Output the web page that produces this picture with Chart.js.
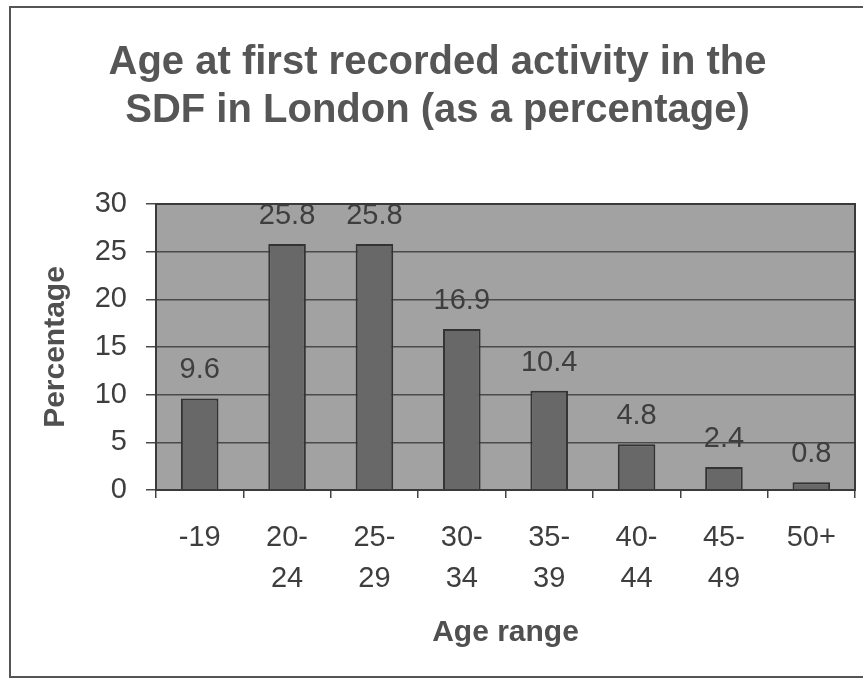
<!DOCTYPE html>
<html>
<head>
<meta charset="utf-8">
<script src="https://cdn.jsdelivr.net/npm/chart.js@4"></script>
<style>
html, body { margin: 0; padding: 0; background: #fff; }
#wrap { position: relative; width: 863px; height: 680px; overflow: hidden; }
#frame { position: absolute; left: 9px; top: 6px; width: 900px; height: 668px; border: 2px solid #555; border-right: none; }
#graphCanvas { position: absolute; left: 0; top: 0; }
</style>
</head>
<body>
<div id="wrap">
  <div id="frame"></div>
  <canvas id="graphCanvas" width="863" height="680"></canvas>
</div>
<script>
// chart data
var ageRanges = ['-19', ['20-', '24'], ['25-', '29'], ['30-', '34'], ['35-', '39'], ['40-', '44'], ['45-', '49'], '50+'];
var percentages = [9.6, 25.8, 25.8, 16.9, 10.4, 4.8, 2.4, 0.8];
var yTicks = [0, 5, 10, 15, 20, 25, 30];
var titleLines = ['Age at first recorded activity in the', 'SDF in London (as a percentage)'];

var fontFamily = '"Liberation Sans", Arial, sans-serif';

// grey plot area behind the bars
var plotBackground = {
    id: 'plotBackground',
    beforeDraw: function (chart) {
        var a = chart.chartArea;
        var ctx = chart.ctx;
        ctx.save();
        ctx.fillStyle = '#a2a2a2';
        ctx.fillRect(a.left, a.top, a.right - a.left, a.bottom - a.top);
        ctx.restore();
    },
    afterDraw: function (chart) {
        var a = chart.chartArea;
        var ctx = chart.ctx;
        ctx.save();
        ctx.strokeStyle = '#3a3a3a';
        ctx.lineWidth = 2;
        ctx.strokeRect(a.left, a.top, a.right - a.left, a.bottom - a.top);
        ctx.restore();
    }
};

// numbers written above each bar
var valueLabels = {
    id: 'valueLabels',
    afterDatasetsDraw: function (chart) {
        var ctx = chart.ctx;
        var meta = chart.getDatasetMeta(0);
        ctx.save();
        ctx.font = '29px ' + fontFamily;
        ctx.fillStyle = '#3e3e3e';
        ctx.textAlign = 'center';
        ctx.textBaseline = 'middle';
        meta.data.forEach(function (bar, i) {
            ctx.fillText(String(percentages[i]), bar.x, bar.y - 28);
        });
        ctx.restore();
    }
};

var chartdata = {
    labels: ageRanges,
    datasets: [
        {
            label: 'Percentage',
            data: percentages,
            backgroundColor: '#686868',
            borderColor: '#333',
            borderWidth: 2,
            barPercentage: 0.43,
            categoryPercentage: 1.0
        }
    ]
};

var graphTarget = document.getElementById('graphCanvas');

var barGraph = new Chart(graphTarget, {
    type: 'bar',
    data: chartdata,
    plugins: [plotBackground, valueLabels],
    options: {
        responsive: false,
        animation: false,
        devicePixelRatio: 1,
        layout: { padding: { left: 20, right: 8, top: 0, bottom: 20 } },
        plugins: {
            legend: { display: false },
            tooltip: { enabled: false },
            title: {
                display: true,
                text: titleLines,
                color: '#565656',
                font: { family: fontFamily, size: 40, weight: 'bold', lineHeight: 1.2 },
                padding: { top: 39, bottom: 69 }
            }
        },
        scales: {
            x: {
                grid: { offset: true, drawOnChartArea: false, tickLength: 8, color: '#444', lineWidth: 1.5 },
                border: { display: true, color: '#333', width: 2 },
                ticks: {
                    color: '#3e3e3e',
                    font: { family: fontFamily, size: 29, lineHeight: 1.41 },
                    padding: 20,
                    maxRotation: 0,
                    autoSkip: false
                },
                title: {
                    display: true,
                    text: 'Age range',
                    color: '#505050',
                    font: { family: fontFamily, size: 30, weight: 'bold' },
                    padding: { top: 0, bottom: 9 }
                },
                afterFit: function (scale) { scale.height = 170; }
            },
            y: {
                min: 0,
                max: 30,
                afterBuildTicks: function (scale) {
                    scale.ticks = yTicks.map(function (v) { return { value: v }; });
                },
                grid: { color: '#4a4a4a', lineWidth: 1.5, tickLength: 10 },
                border: { display: true, color: '#333', width: 2 },
                ticks: {
                    color: '#3e3e3e',
                    font: { family: fontFamily, size: 29 },
                    padding: 19
                },
                title: {
                    display: true,
                    text: 'Percentage',
                    color: '#505050',
                    font: { family: fontFamily, size: 30, weight: 'bold' },
                    padding: { top: 18, bottom: 0 }
                },
                afterFit: function (scale) { scale.width = 136; }
            }
        }
    }
});
</script>
</body>
</html>
